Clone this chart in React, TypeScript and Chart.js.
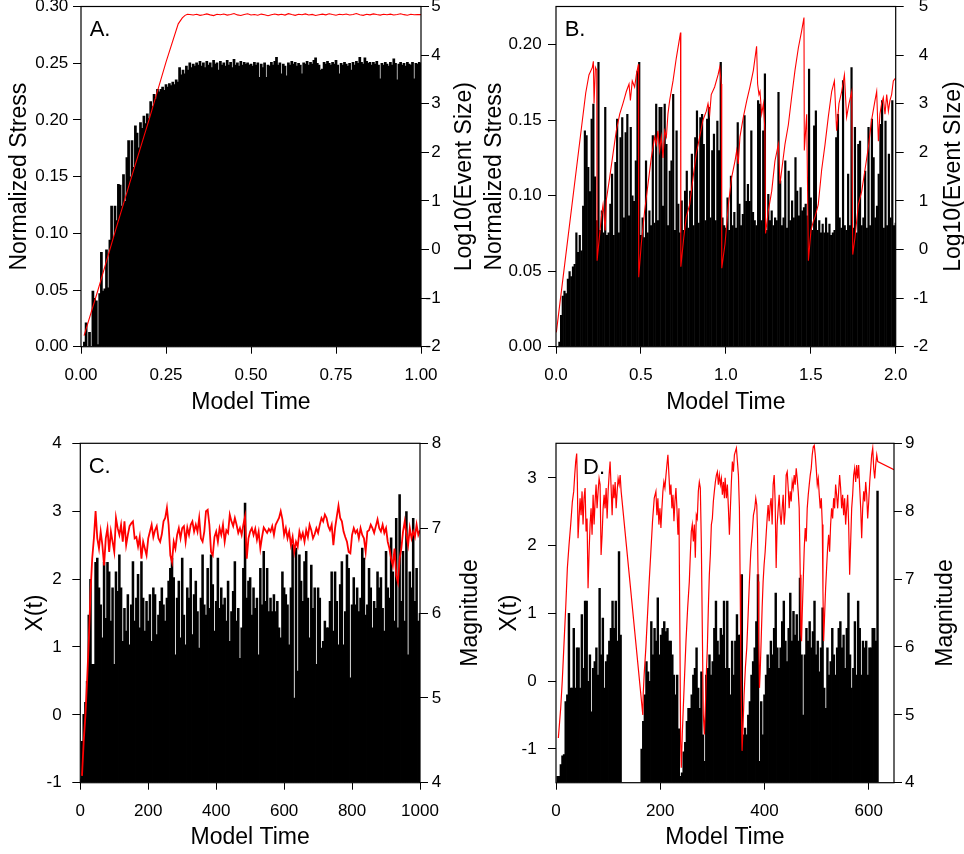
import React, { useEffect, useRef } from 'react';
import { Chart, registerables } from 'chart.js';

Chart.register(...registerables);

const FONT = '"Liberation Sans", Arial, Helvetica, sans-serif';
Chart.defaults.font.family = FONT;

// ================= DATA =================

// ---- Panel A : Log10(Event Size) bars (sampled every 0.005 model time) ----
const A_TIME_STEP = 0.005;
const A_EVENT_SIZE = [
  -2, -2, -1.9, -1.5, -2, -1.7, -2, -0.85, -1.0, -1.05,
  -1.95, -0.9, -0.05, -0.85, -0.8, 0.0, -0.78, 0.2, 0.9, 0.25,
  0.9, 0.6, 1.35, 1.33, 0.9, 1.55, 1.0, 1.9, 2.25, 1.5,
  2.25, 1.7, 2.55, 2.4, 2.1, 2.62, 2.5, 2.75, 2.6, 2.8,
  2.7, 3.05, 2.95, 3.2, 3.1, 3.3, 3.25, 3.3, 3.35, 3.28,
  3.4, 3.35, 3.42, 3.38, 3.45, 3.4, 3.5, 3.45, 3.75, 3.6,
  3.7, 3.62, 3.78, 3.7, 3.85, 3.75, 3.82, 3.78, 3.85, 3.8,
  3.88, 3.78, 3.85, 3.75, 3.88, 3.8, 3.85, 3.75, 3.9, 3.82,
  3.85, 3.7, 3.88, 3.8, 3.85, 3.78, 3.9, 3.8, 3.86, 3.75,
  3.92, 3.8, 3.85, 3.78, 3.88, 3.8, 3.86, 3.82, 3.85, 3.8,
  3.82, 3.78, 3.86, 3.8, 3.85, 3.55, 3.82, 3.75, 3.85, 3.55,
  3.8, 3.78, 3.86, 3.8, 3.88, 3.96, 3.8, 3.85, 3.62, 3.82,
  3.78, 3.58, 3.85, 3.8, 3.88, 3.82, 3.86, 3.78, 3.84, 3.8,
  3.62, 3.85, 3.82, 3.88, 3.8, 3.86, 3.82, 3.9, 3.95, 3.84,
  3.8, 3.7, 3.72, 3.86, 3.82, 3.88, 3.84, 3.8, 3.86, 3.82,
  3.9, 3.8, 3.62, 3.84, 3.8, 3.86, 3.82, 3.78, 3.84, 3.7,
  3.86, 3.8, 3.88, 3.84, 3.96, 3.86, 3.82, 3.95, 3.88, 3.84,
  3.86, 3.8, 3.86, 3.82, 3.88, 3.8, 3.52, 3.84, 3.8, 3.86,
  3.82, 3.78, 3.86, 3.8, 3.93, 3.84, 3.5, 3.82, 3.86, 3.8,
  3.84, 3.78, 3.86, 3.82, 3.8, 3.86, 3.52, 3.84, 3.82, 3.86,
  3.84,
];
// ---- Panel A : Normalized stress (red) ----
const A_STRESS_RISE: [number, number][] = [
  [0.009, 0.0097], [0.05, 0.05], [0.1, 0.101], [0.15, 0.151], [0.2, 0.2],
  [0.25, 0.251], [0.286, 0.2847], [0.298, 0.29], [0.306, 0.2922], [0.313, 0.2932],
];
const A_PLATEAU_START = 0.32;
const A_PLATEAU_STEP = 0.01;
const A_STRESS_PLATEAU = [
  0.2930, 0.2925, 0.2932, 0.2922, 0.2928, 0.2935, 0.2926, 0.2920, 0.2931, 0.2927,
  0.2934, 0.2924, 0.2929, 0.2938, 0.2926, 0.2921, 0.2930, 0.2936, 0.2925, 0.2929,
  0.2923, 0.2933, 0.2927, 0.2919, 0.2928, 0.2934, 0.2926, 0.2931, 0.2924, 0.2937,
  0.2929, 0.2922, 0.2932, 0.2927, 0.2935, 0.2925, 0.2930, 0.2921, 0.2928, 0.2933,
  0.2926, 0.2936, 0.2929, 0.2923, 0.2931, 0.2927, 0.2934, 0.2925, 0.2930, 0.2938,
  0.2928, 0.2922, 0.2932, 0.2926, 0.2935, 0.2929, 0.2924, 0.2931, 0.2927, 0.2933,
  0.2925, 0.2930, 0.2936, 0.2928, 0.2923, 0.2932, 0.2927, 0.2930, 0.2928,
];

// ---- Panel B : Log10(Event Size) bars (every 0.01) ----
const B_TIME_STEP = 0.01;
const B_EVENT_SIZE = [
  -2, -2, -1.9, -1.35, -0.95, -0.85, -0.9, -0.6, -0.45, -0.55,
  -0.35, -0.3, 0.35, -0.05, 0.3, -0.02, 0.9, 2.45, 2.35, 1.7,
  1.2, 2.69, 3.0, 1.5, 0.6, 3.86, 0.4, 0.8, 0.35, 2.93,
  0.3, 0.35, 0.94, 1.56, 0.3, 1.8, 2.69, 0.35, 2.31, 2.72,
  0.66, 2.41, 2.79, 0.7, 2.52, 1.11, 1.0, 1.83, 3.68, 3.86,
  0.3, 0.66, 0.25, 1.83, 0.35, 0.8, 0.5, 2.35, 0.55, 3.0,
  0.6, 2.93, 2.93, 0.9, 3.0, 2.17, 0.5, 1.62, 1.83, 3.2,
  0.4, 2.45, 0.94, 0.35, 1.01, 0.4, 1.21, 1.62, 0.45, 1.21,
  1.97, 0.5, 2.31, 2.86, 0.55, 2.72, 2.79, 2.17, 0.6, 2.69,
  2.93, 0.66, 2.04, 2.38, 0.6, 2.65, 2.04, 3.86, 0.66, 0.5,
  0.45, 1.07, 0.4, 1.52, 0.5, 0.77, 0.45, 2.62, 0.94, 0.5,
  0.73, 2.76, 1.0, 1.35, 1.0, 2.45, 0.77, 0.6, 0.5, 3.07,
  3.0, 0.6, 2.45, 3.62, 0.4, 1.14, 0.6, 0.8, 0.5, 0.66,
  0.6, 3.24, 1.42, 0.5, 0.66, 1.83, 0.45, 1.62, 0.6, 1.01,
  0.66, 1.9, 1.21, 0.7, 1.28, 0.8, 0.87, 0.94, 0.7, 3.72,
  1.07, 0.4, 2.55, 2.86, 0.4, 0.6, 0.35, 0.53, 0.35, 0.66,
  0.35, 0.53, 0.3, 0.35, 0.4, 2.31, 2.79, 0.66, 0.45, 3.48,
  0.5, 0.4, 1.56, 0.5, 3.75, 0.45, 2.52, 0.35, 2.17, 2.24,
  0.5, 0.66, 1.62, 0.45, 2.52, 0.5, 2.69, 1.9, 0.66, 0.9,
  1.56, 2.58, 3.07, 0.45, 2.65, 0.5, 1.97, 0.66, 3.07, 0.5,
  0.55,
];
// ---- Panel B : Normalized stress (red sawtooth) ----
const B_STRESS: [number, number][] = [
  [0.002, 0.0095], [0.175, 0.168], [0.194, 0.18], [0.214, 0.185], [0.22, 0.189], [0.224, 0.161], [0.232, 0.185], [0.24, 0.183], [0.242, 0.057],
  [0.267, 0.086], [0.277, 0.094], [0.29, 0.077], [0.296, 0.097], [0.316, 0.112], [0.336, 0.128], [0.355, 0.143], [0.375, 0.154], [0.394, 0.161], [0.404, 0.165],
  [0.414, 0.169], [0.43, 0.174], [0.438, 0.163], [0.449, 0.176], [0.463, 0.172], [0.473, 0.18], [0.485, 0.187], [0.487, 0.046],
  [0.502, 0.068], [0.522, 0.09], [0.542, 0.108], [0.561, 0.125], [0.581, 0.139], [0.591, 0.134], [0.6, 0.143], [0.61, 0.13], [0.62, 0.139], [0.63, 0.125],
  [0.64, 0.143], [0.65, 0.139], [0.659, 0.154], [0.669, 0.163], [0.689, 0.176], [0.708, 0.191], [0.733, 0.208], [0.735, 0.053],
  [0.752, 0.072], [0.767, 0.086], [0.787, 0.094], [0.797, 0.103], [0.807, 0.112], [0.826, 0.128], [0.846, 0.139], [0.865, 0.15], [0.885, 0.156], [0.895, 0.161],
  [0.905, 0.154], [0.914, 0.167], [0.934, 0.172], [0.954, 0.18], [0.964, 0.185], [0.973, 0.174], [0.976, 0.052],
  [0.995, 0.068], [1.015, 0.094], [1.034, 0.112], [1.054, 0.123], [1.064, 0.13], [1.073, 0.121], [1.083, 0.139], [1.103, 0.152], [1.123, 0.163], [1.142, 0.172],
  [1.162, 0.183], [1.181, 0.199], [1.187, 0.174], [1.195, 0.167], [1.201, 0.169], [1.211, 0.154], [1.221, 0.161], [1.23, 0.143], [1.234, 0.075],
  [1.25, 0.09], [1.27, 0.103], [1.289, 0.123], [1.309, 0.134], [1.319, 0.108], [1.329, 0.117], [1.348, 0.134], [1.368, 0.147], [1.387, 0.165], [1.407, 0.183],
  [1.427, 0.198], [1.446, 0.209], [1.46, 0.218], [1.462, 0.13], [1.476, 0.154], [1.486, 0.057],
  [1.501, 0.077], [1.515, 0.083], [1.525, 0.086], [1.544, 0.094], [1.564, 0.117], [1.584, 0.134], [1.603, 0.152], [1.623, 0.169], [1.639, 0.176], [1.652, 0.143],
  [1.666, 0.161], [1.682, 0.169], [1.698, 0.18], [1.711, 0.152], [1.725, 0.161], [1.741, 0.169], [1.747, 0.061],
  [1.76, 0.072], [1.78, 0.094], [1.8, 0.103], [1.819, 0.117], [1.839, 0.132], [1.858, 0.15], [1.878, 0.163], [1.888, 0.169], [1.898, 0.136], [1.907, 0.154],
  [1.917, 0.161], [1.927, 0.165], [1.937, 0.154], [1.947, 0.167], [1.957, 0.156], [1.966, 0.163], [1.976, 0.167], [1.986, 0.176], [2.0, 0.178],
];

// ---- Panel C : Magnitude bars (every 5 time units) ----
const C_TIME_STEP = 5;
const C_MAGNITUDE = [
  4.05, 4.49, 4.81, 4.95, 5.2, 5.98, 6.4, 5.4, 5.4, 6.6,
  6.65, 6.3, 6.1, 5.71, 6.6, 5.94, 6.6, 6.49, 5.91, 6.3,
  5.4, 6.49, 6.26, 6.69, 6.3, 5.67, 6.06, 5.79, 6.22, 5.63,
  6.1, 6.61, 5.91, 6.18, 6.46, 5.83, 6.61, 6.18, 5.79, 6.14,
  5.91, 6.22, 5.67, 6.3, 6.22, 5.75, 5.98, 6.14, 6.3, 6.1,
  5.91, 6.18, 6.38, 6.53, 6.65, 6.42, 5.51, 6.18, 6.38, 5.71,
  6.65, 5.98, 5.63, 6.3, 6.18, 6.53, 5.75, 6.22, 6.38, 6.02,
  5.59, 6.18, 6.69, 6.1, 5.98, 6.53, 6.06, 6.69, 6.34, 5.79,
  6.14, 6.65, 6.06, 6.3, 6.1, 6.18, 5.91, 6.38, 5.67, 6.02,
  6.26, 6.61, 5.91, 6.06, 5.47, 5.83, 6.53, 7.3, 6.18, 6.38,
  6.42, 5.98, 6.3, 6.06, 6.18, 5.51, 6.53, 6.1, 6.73, 6.14,
  6.53, 6.02, 6.18, 6.02, 6.22, 6.02, 6.14, 5.83, 5.71, 6.49,
  6.3, 6.22, 6.1, 5.63, 6.3, 6.81, 5.0, 6.77, 5.32, 6.69,
  6.38, 6.14, 6.61, 6.73, 6.18, 5.71, 6.57, 6.06, 6.3, 5.4,
  6.3, 6.18, 5.59, 5.67, 5.91, 5.83, 5.83, 6.14, 6.49, 5.79,
  6.49, 6.14, 5.63, 6.34, 6.61, 5.63, 6.02, 6.69, 6.53, 5.24,
  6.1, 6.42, 6.1, 6.3, 6.02, 6.18, 6.77, 6.65, 5.98, 6.1,
  6.53, 6.3, 5.83, 6.14, 6.06, 6.49, 6.3, 6.42, 6.06, 5.79,
  6.73, 6.3, 6.18, 6.89, 6.49, 5.91, 7.12, 5.83, 7.4, 6.14,
  6.73, 5.91, 7.2, 5.51, 6.49, 6.3, 7.12, 6.14, 6.53, 5.91,
  6.0,
];
// ---- Panel C : X(t) (red), starting at t = 5, every 5 time units ----
const C_X_START = 5;
const C_X_STEP = 5;
const C_X = [
  -0.9, -0.39, -0.01, 0.5, 1.09, 1.8, 2.3, 2.6, 3.0, 2.6,
  2.45, 2.7, 2.5, 2.2, 2.6, 2.75, 2.4, 2.7, 2.55, 2.4,
  2.9, 2.75, 2.65, 2.8, 2.55, 2.85, 2.5, 2.65, 2.78, 2.82,
  2.85, 2.6, 2.62, 2.48, 2.62, 2.3, 2.55, 2.45, 2.35, 2.6,
  2.7, 2.8, 2.62, 2.72, 2.78, 2.6, 2.55, 2.66, 2.85, 2.9,
  3.05, 2.8, 2.35, 2.25, 2.55, 2.45, 2.65, 2.75, 2.6, 2.75,
  2.78, 2.55, 2.76, 2.65, 2.8, 2.85, 2.7, 2.8, 2.7, 2.9,
  2.6, 2.55, 2.7, 3.0, 3.02, 2.8, 2.4, 2.35, 2.62, 2.7,
  2.55, 2.75, 2.65, 2.8, 2.55, 2.72, 2.68, 2.95, 2.85, 2.78,
  2.9, 2.8, 2.68, 2.75, 2.65, 2.8, 2.92, 2.3, 2.6, 2.7,
  2.75, 2.65, 2.74, 2.58, 2.7, 2.45, 2.62, 2.76, 2.72, 2.68,
  2.74, 2.7, 2.78, 2.65, 2.8, 2.85, 2.9, 3.0, 2.88, 2.65,
  2.75, 2.6, 2.7, 2.5, 2.62, 2.4, 2.55, 2.48, 2.7, 2.6,
  2.68, 2.55, 2.72, 2.62, 2.8, 2.72, 2.6, 2.66, 2.75, 2.68,
  2.8, 2.9, 2.85, 2.95, 2.9, 2.78, 2.72, 2.8, 2.5, 2.75,
  2.92, 3.08, 2.9, 2.85, 2.7, 2.62, 2.55, 2.4, 2.38, 2.65,
  2.75, 2.68, 2.72, 2.6, 2.75, 2.65, 2.6, 2.4, 2.7, 2.72,
  2.8, 2.75, 2.68, 2.78, 2.88, 2.75, 2.7, 2.8, 2.68, 2.75,
  2.55, 2.45, 2.3, 2.2, 2.45, 2.05, 1.95, 2.3, 2.45, 2.7,
  2.85, 2.65, 2.5, 2.75, 2.6, 2.7, 2.62, 2.8, 2.65, 2.72,
];

// ---- Panel D : Magnitude bars (every 3.1 time units) ----
const D_TIME_STEP = 3.1;
const D_MAGNITUDE = [
  4.0, 4.1, 4.1, 4.27, 4.4, 4.42, 5.2, 5.3, 6.5, 5.4,
  5.4, 6.28, 5.4, 5.99, 5.99, 5.4, 6.48, 5.69, 6.68, 6.68,
  5.5, 5.89, 5.05, 5.69, 5.79, 5.99, 5.59, 6.87, 5.89, 6.43,
  5.4, 5.79, 5.89, 6.09, 6.28, 6.68, 6.28, 6.68, 6.09, 7.41,
  6.18, 4, 4, 4, 4, 4, 4, 4, 4, 4,
  4, 4, 4, 4.5, 4.91, 5.3, 5.79, 5.64, 5.5, 6.38,
  5.89, 6.28, 6.09, 6.73, 5.89, 6.18, 6.28, 6.38, 6.23, 6.28,
  6.09, 6.09, 5.89, 5.59, 5.3, 5.59, 4.8, 4.1, 4.15, 4.46,
  4.6, 4.91, 5.1, 5.1, 5.3, 5.59, 5.69, 5.99, 5.4, 5.1,
  5.64, 4.71, 4.32, 5.59, 5.69, 5.89, 5.59, 5.79, 6.28, 6.68,
  6.09, 5.89, 6.28, 6.18, 6.68, 5.69, 6.68, 5.69, 5.3, 6.09,
  5.59, 6.09, 6.48, 6.18, 6.18, 7.07, 4.71, 4.81, 4.71, 5.0,
  5.2, 5.59, 5.79, 5.99, 6.38, 7.07, 4.32, 5.2, 4.71, 5.3,
  5.59, 5.89, 5.69, 6.09, 5.89, 6.28, 6.8, 5.99, 5.69, 5.99,
  6.38, 6.68, 6.09, 5.79, 6.28, 6.8, 6.09, 6.53, 6.18, 6.48,
  6.09, 7.02, 5.89, 5.0, 5.89, 6.28, 6.09, 6.38, 5.99, 6.23,
  6.68, 5.89, 6.09, 5.64, 5.99, 6.58, 5.4, 5.1, 5.99, 5.59,
  5.79, 6.28, 5.89, 5.59, 5.99, 6.28, 6.38, 5.99, 6.18, 5.69,
  6.28, 6.8, 5.89, 5.4, 5.69, 6.38, 5.59, 6.68, 6.28, 5.59,
  6.09, 5.99, 6.09, 5.59, 5.99, 5.99, 6.28, 6.28, 6.09, 8.3,
];
// ---- Panel D : X(t) (red) ----
const D_X: [number, number][] = [
  [4.5, -0.84], [9, -0.4], [12, 0.0], [15, 0.49], [18.6, 1.08], [21.8, 1.67], [25, 2.01], [28.2, 2.31], [31.4, 2.65], [34, 2.8],
  [35.9, 3.04], [37.8, 3.24], [39.7, 3.36], [41, 2.94], [42.3, 2.11], [44.2, 2.4], [46.2, 2.7], [48.1, 2.45], [50, 2.8], [51.9, 2.31],
  [53.8, 2.7], [55.8, 2.85], [57.7, 2.21], [59.6, 2.4], [61.5, 1.37], [63.5, 1.91], [65.4, 2.31], [67.3, 2.55], [69.2, 2.16], [71.2, 2.75],
  [73.1, 2.31], [75, 2.65], [76.9, 2.9], [78.8, 2.55], [80.8, 2.8], [82.7, 2.99], [84.6, 2.9], [86.5, 1.86], [88.5, 2.16], [90.4, 2.55],
  [92.3, 2.75], [94.2, 2.55], [96.2, 2.85], [98.1, 2.4], [100, 2.8], [101.9, 3.04], [103.8, 3.24], [105.8, 2.85], [107.7, 2.45], [109.6, 2.9],
  [111.5, 2.7], [113.5, 2.94], [115.4, 2.55], [117.3, 2.8], [119.2, 2.99], [121.2, 2.9], [123.1, 3.04], [125, 2.8], [166.6, -0.5], [167.3, -0.2],
  [169.2, 0.1], [172.4, 0.49], [175.6, 0.98], [178.8, 1.47], [182, 1.91], [185.2, 2.36], [188.5, 2.7], [191.7, 2.8], [193.6, 2.45], [195.5, 2.7],
  [197.4, 2.31], [199.4, 2.55], [201.3, 2.26], [203.2, 2.55], [205.1, 2.8], [207, 2.94], [209, 2.85], [211, 3.04], [212.8, 3.19], [214.7, 3.34],
  [216.7, 3.04], [218.6, 2.75], [220.5, 2.9], [222.4, 2.55], [224.4, 2.75], [226.3, 2.36], [228.2, 2.65], [230.1, 2.85], [232, 2.55], [234, 2.16],
  [235.9, 2.55], [237.8, 0.59], [239.1, -0.89], [240.4, -1.28], [242.3, -0.79], [244.2, -0.4], [246.8, 0.1], [249.4, 0.59], [252.6, 1.08], [255.8, 1.47],
  [257.7, 1.86], [259.6, 2.21], [261.5, 2.31], [263.5, 2.06], [265.4, 2.31], [267.3, 1.82], [269.2, 2.45], [271.1, 2.4], [273.1, 2.8], [275, 2.94],
  [276.9, 2.85], [278.8, 2.06], [280.7, 0.78], [282.6, -0.49], [284.6, -0.79], [286.5, -0.4], [288.4, 0.1], [290.4, 0.49], [292.3, 1.08], [294.2, 1.57],
  [296.1, 1.86], [298.1, 2.31], [300, 2.4], [301.9, 2.65], [303.8, 2.8], [305.8, 2.94], [307.7, 3.04], [309.6, 3.09], [311.5, 2.9], [313.4, 3.04],
  [315.4, 2.9], [317.3, 2.99], [319.2, 2.75], [321.2, 2.94], [323.1, 2.7], [324.5, 3.0], [326.9, 2.7], [328.8, 2.9], [330.8, 2.55], [332.7, 2.16],
  [334.6, 2.55], [336.5, 2.94], [338.4, 3.24], [340.4, 3.09], [342.3, 3.34], [344.2, 3.39], [346.1, 3.44], [348.1, 3.24], [350, 3.04], [351.9, 2.55],
  [353.2, 1.57], [354.5, 0.34], [355.7, -0.4], [357, -1.03], [359, -0.64], [360.9, -0.2], [363.4, 0.2], [366, 0.49], [368.6, 0.98], [371.1, 1.47],
  [373.7, 1.91], [376.3, 2.16], [378.8, 2.45], [381.4, 2.55], [383.3, 2.7], [385.2, 2.6], [386.5, 2.26], [387.8, 1.47], [389.1, 0.59], [390.4, -0.1],
  [391.6, 0.1], [393.6, 0.59], [395.5, 1.08], [397.4, 1.47], [399.3, 1.72], [401.3, 1.91], [403.2, 2.16], [405.1, 2.4], [407, 2.6], [409, 2.36],
  [410.9, 2.6], [412.8, 2.7], [414.7, 2.31], [416.6, 2.9], [418.6, 3.04], [420.5, 2.65], [422.4, 1.67], [424.3, 2.31], [426.3, 2.55], [428.2, 2.75],
  [430.1, 2.45], [432, 2.31], [434, 2.55], [435.9, 2.75], [437.8, 2.31], [439.7, 2.5], [441.6, 3.04], [443.6, 3.09], [445.5, 2.85], [447.4, 2.55],
  [449.3, 2.8], [451.3, 2.65], [453.2, 2.94], [455.1, 2.85], [457, 3.04], [458.9, 2.9], [460.9, 3.14], [462.8, 2.99], [464.7, 2.8], [466.6, 2.55],
  [468.6, 1.57], [469.8, 0.69], [471.1, 0.59], [472.4, 0.98], [474.3, 1.47], [476.3, 1.96], [478.2, 2.26], [480.1, 2.06], [482, 2.55], [484, 2.75],
  [485.9, 2.9], [487.8, 3.04], [489.7, 3.14], [491.6, 3.34], [493.6, 3.46], [495.5, 3.48], [497.4, 3.34], [499.3, 3.14], [501.3, 2.9], [503.2, 2.99],
  [505.1, 2.75], [507, 2.55], [509, 2.7], [510.9, 2.31], [512.2, 1.32], [513.5, 0.59], [515.4, 0.98], [517.3, 1.37], [519.2, 1.67], [521.1, 1.96],
  [523.1, 2.16], [525, 1.91], [526.9, 2.31], [528.8, 2.55], [530.8, 2.4], [532.7, 2.7], [534.6, 2.55], [536.5, 2.9], [538.4, 2.75], [540.4, 2.55],
  [542.3, 2.8], [544.2, 3.04], [546.1, 2.85], [548, 2.55], [550, 2.75], [551.9, 2.45], [553.8, 2.7], [555.7, 2.31], [557.7, 2.55], [559.6, 2.75],
  [561.5, 2.31], [563.4, 1.57], [565.4, 2.06], [567.3, 2.55], [569.2, 2.75], [571.1, 3.04], [573, 3.14], [575, 2.94], [576.9, 3.19], [578.8, 2.99],
  [580.7, 3.19], [582.7, 2.85], [584.6, 2.55], [586.5, 2.11], [588.4, 2.55], [590.4, 2.8], [592.3, 2.65], [594.2, 2.94], [596.1, 2.75], [598, 2.4],
  [600, 2.65], [601.9, 2.94], [603.8, 3.14], [605.7, 3.34], [607.7, 3.44], [609.6, 3.14], [611.5, 2.99], [613.4, 3.19], [615.4, 3.34], [617.3, 3.24],
  [648.5, 3.12],
];

// ================= CHART BUILDING =================

type Pt = { x: number; y: number };
type AxisSpec = { min: number; max: number; step: number; digits: number };
type PanelSpec = {
  left: number; top: number;
  letter: string; letterDx: number; letterDy: number;
  xAxis: AxisSpec; yAxis: AxisSpec; y1Axis: AxisSpec;
  bars: Pt[]; line: Pt[];
  yTitle: string; y1Title: string; y1TitleX: number;
  padTop: number; padRight: number; leftW: number; rightW: number; bottomH: number;
  yTitlePad: number; xTitlePad: number;
  yTickPad: number; y1TickPad: number; y1Far: boolean; xTickPad: number;
  lineWidth: number; barPct: number;
};

const uniform = (vals: number[], start: number, step: number): Pt[] =>
  vals.map((v, i) => ({ x: start + i * step, y: v }));
const pairs = (p: [number, number][]): Pt[] => p.map(([x, y]) => ({ x, y }));

const decorPlugin: any = {
  id: 'panelDecor',
  afterDatasetsDraw(chart: any, _args: any, opts: any) {
    const { ctx, chartArea: a } = chart;
    ctx.save();
    ctx.strokeStyle = '#000';
    ctx.lineWidth = 1.2;
    ctx.strokeRect(a.left, a.top, a.right - a.left, a.bottom - a.top);
    ctx.fillStyle = '#000';
    ctx.font = `22px ${FONT}`;
    ctx.textAlign = 'left';
    ctx.textBaseline = 'alphabetic';
    ctx.fillText(opts.letter, a.left + opts.letterDx, a.top + opts.letterDy);
    ctx.font = `23px ${FONT}`;
    ctx.translate(opts.rightTitleX, (a.top + a.bottom) / 2);
    ctx.rotate(-Math.PI / 2);
    ctx.textAlign = 'center';
    ctx.textBaseline = 'middle';
    ctx.fillText(opts.rightTitle, 0, 0);
    ctx.restore();
  },
};

const tickFont = { family: FONT, size: 17 };
const titleFont = { family: FONT, size: 23, lineHeight: 1 };
const gridOpts = (len: number) => ({
  display: true, drawOnChartArea: false, drawTicks: true, tickLength: len,
  color: '#000', lineWidth: 1, offset: false,
});
const fmt = (d: number) => (v: any) => Number(v).toFixed(d);

function Panel({ spec }: { spec: PanelSpec }) {
  const ref = useRef<HTMLCanvasElement>(null);
  useEffect(() => {
    const canvas = ref.current;
    if (!canvas) return;
    const chart = new Chart(canvas, {
      type: 'bar',
      data: {
        datasets: [
          {
            type: 'line', data: spec.line, xAxisID: 'x', yAxisID: 'y',
            borderColor: '#ff0000', borderWidth: spec.lineWidth, pointRadius: 0, fill: false, tension: 0, order: 0,
          } as any,
          {
            type: 'bar', data: spec.bars, xAxisID: 'x', yAxisID: 'y1', base: spec.y1Axis.min,
            backgroundColor: '#000', borderWidth: 0, barPercentage: spec.barPct, categoryPercentage: 1,
            inflateAmount: 0, order: 1, clip: 0,
          } as any,
        ],
      },
      options: {
        animation: false,
        responsive: false,
        maintainAspectRatio: false,
        events: [],
        layout: { padding: { top: spec.padTop, right: spec.padRight, left: 0, bottom: 0 } },
        plugins: {
          legend: { display: false },
          tooltip: { enabled: false },
          panelDecor: {
            letter: spec.letter, letterDx: spec.letterDx, letterDy: spec.letterDy,
            rightTitle: spec.y1Title, rightTitleX: spec.y1TitleX,
          },
        } as any,
        scales: {
          x: {
            type: 'linear', position: 'bottom', min: spec.xAxis.min, max: spec.xAxis.max, offset: false,
            grid: gridOpts(7), border: { display: false },
            ticks: {
              stepSize: spec.xAxis.step, includeBounds: false, autoSkip: false, maxRotation: 0, minRotation: 0,
              font: tickFont, color: '#000', padding: spec.xTickPad, callback: fmt(spec.xAxis.digits),
            },
            title: { display: true, text: 'Model Time', font: titleFont, color: '#000', padding: { top: 0, bottom: spec.xTitlePad } },
            afterFit: (s: any) => { s.height = spec.bottomH; s.paddingLeft = 0; s.paddingRight = 0; },
          },
          y: {
            type: 'linear', position: 'left', min: spec.yAxis.min, max: spec.yAxis.max,
            grid: gridOpts(8), border: { display: false },
            ticks: {
              stepSize: spec.yAxis.step, includeBounds: false, autoSkip: false,
              font: tickFont, color: '#000', padding: spec.yTickPad, callback: fmt(spec.yAxis.digits),
            },
            title: { display: true, text: spec.yTitle, font: titleFont, color: '#000', padding: { top: spec.yTitlePad, bottom: 0 } },
            afterFit: (s: any) => { s.width = spec.leftW; s.paddingTop = 0; s.paddingBottom = 0; },
          },
          y1: {
            type: 'linear', position: 'right', min: spec.y1Axis.min, max: spec.y1Axis.max,
            grid: gridOpts(8), border: { display: false },
            ticks: {
              stepSize: spec.y1Axis.step, includeBounds: false, autoSkip: false,
              font: tickFont, color: '#000', padding: spec.y1TickPad,
              crossAlign: spec.y1Far ? 'far' : 'near', callback: fmt(spec.y1Axis.digits),
            },
            afterFit: (s: any) => { s.width = spec.rightW; s.paddingTop = 0; s.paddingBottom = 0; },
          },
        } as any,
      },
      plugins: [decorPlugin],
    } as any);
    return () => chart.destroy();
  }, [spec]);
  return (
    <canvas
      ref={ref}
      width={482}
      height={427}
      style={{ position: 'absolute', left: spec.left, top: spec.top, width: 482, height: 427, display: 'block' }}
    />
  );
}

const PANELS: PanelSpec[] = [
  {
    left: 0, top: 0, letter: 'A.', letterDx: 8.7, letterDy: 29.2,
    xAxis: { min: 0, max: 1, step: 0.25, digits: 2 },
    yAxis: { min: 0, max: 0.3, step: 0.05, digits: 2 },
    y1Axis: { min: -2, max: 5, step: 1, digits: 0 },
    bars: uniform(A_EVENT_SIZE, 0, A_TIME_STEP),
    line: [...pairs(A_STRESS_RISE), ...uniform(A_STRESS_PLATEAU, A_PLATEAU_START, A_PLATEAU_STEP)],
    yTitle: 'Normalized Stress', y1Title: 'Log10(Event Size)', y1TitleX: 464.5,
    padTop: 6.5, padRight: 41.3, leftW: 81, rightW: 19.7, bottomH: 80.3,
    yTitlePad: 7.9, xTitlePad: 13.1, yTickPad: 4.7, y1TickPad: 4, y1Far: true, xTickPad: 11,
    lineWidth: 1.1, barPct: 1.6,
  },
  {
    left: 482, top: 0, letter: 'B.', letterDx: 8.7, letterDy: 29.2,
    xAxis: { min: 0, max: 2, step: 0.5, digits: 1 },
    yAxis: { min: 0, max: 0.2253, step: 0.05, digits: 2 },
    y1Axis: { min: -2, max: 5, step: 1, digits: 0 },
    bars: uniform(B_EVENT_SIZE, 0, B_TIME_STEP),
    line: pairs(B_STRESS),
    yTitle: 'Normalized Stress', y1Title: 'Log10(Event SIze)', y1TitleX: 471.3,
    padTop: 6.5, padRight: 35.7, leftW: 74, rightW: 32.6, bottomH: 80.3,
    yTitlePad: 1.4, xTitlePad: 13.1, yTickPad: 6.3, y1TickPad: 4, y1Far: true, xTickPad: 11,
    lineWidth: 1.1, barPct: 1.3,
  },
  {
    left: 0, top: 427, letter: 'C.', letterDx: 8.4, letterDy: 29.4,
    xAxis: { min: 0, max: 1000, step: 200, digits: 0 },
    yAxis: { min: -1, max: 4, step: 1, digits: 0 },
    y1Axis: { min: 4, max: 8, step: 1, digits: 0 },
    bars: uniform(C_MAGNITUDE, 0, C_TIME_STEP),
    line: uniform(C_X, C_X_START, C_X_STEP),
    yTitle: 'X(t)', y1Title: 'Magnitude', y1TitleX: 470.8,
    padTop: 16.3, padRight: 22, leftW: 80.3, rightW: 40, bottomH: 71.3,
    yTitlePad: 23.7, xTitlePad: 4.7, yTickPad: 10.6, y1TickPad: 3.7, y1Far: false, xTickPad: 11.7,
    lineWidth: 1.8, barPct: 1.5,
  },
  {
    left: 482, top: 427, letter: 'D.', letterDx: 27, letterDy: 30.4,
    xAxis: { min: 0, max: 648.5, step: 200, digits: 0 },
    yAxis: { min: -1.5, max: 3.51, step: 1, digits: 0 },
    y1Axis: { min: 4, max: 9, step: 1, digits: 0 },
    bars: uniform(D_MAGNITUDE, 0, D_TIME_STEP),
    line: pairs(D_X),
    yTitle: 'X(t)', y1Title: 'Magnitude', y1TitleX: 463.8,
    padTop: 16.3, padRight: 30, leftW: 74, rightW: 40, bottomH: 71.3,
    yTitlePad: 16, xTitlePad: 4.7, yTickPad: 11.3, y1TickPad: 3, y1Far: false, xTickPad: 11.7,
    lineWidth: 1.2, barPct: 1.5,
  },
];

export default function App() {
  return (
    <div style={{ position: 'absolute', left: 0, top: 0, width: 964, height: 854, background: '#fff' }}>
      {PANELS.map((p, i) => (
        <Panel key={i} spec={p} />
      ))}
    </div>
  );
}
